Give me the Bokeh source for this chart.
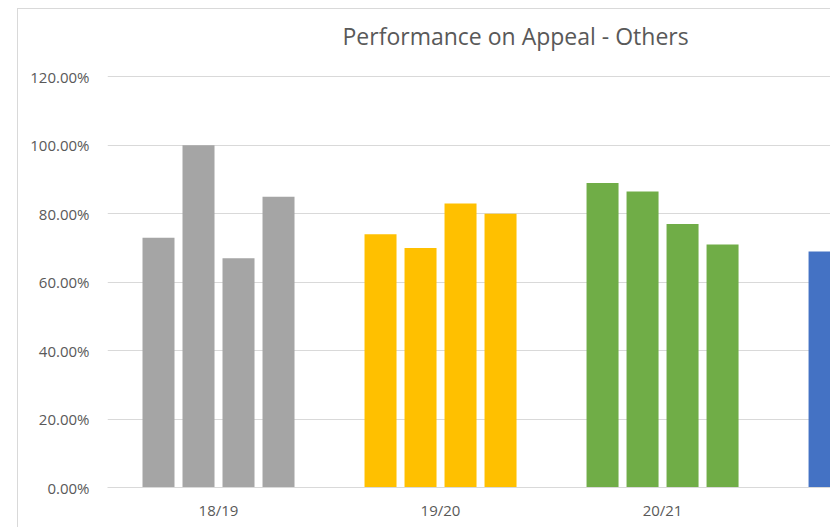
from bokeh.plotting import figure
from bokeh.models import ColumnDataSource, Range1d, FixedTicker, PrintfTickFormatter, Label
from bokeh.transform import dodge
from bokeh.embed import file_html
from bokeh.resources import INLINE
import math

categories = ["18/19", "19/20", "20/21", "21/22"]
q1 = [73.0, 74.0, 89.0, 69.0]
q2 = [100.0, 70.0, 86.5, math.nan]
q3 = [67.0, 83.0, 77.0, math.nan]
q4 = [85.0, 80.0, 71.0, math.nan]
bar_colors = ["#A5A5A5", "#FFC000", "#70AD47", "#4472C4"]
y_ticks = [0, 20, 40, 60, 80, 100, 120]
title_text = "Performance on Appeal - Others"

centers = [i + 0.5 for i in range(len(categories))]
src = ColumnDataSource(dict(x=centers, q1=q1, q2=q2, q3=q3, q4=q4, color=bar_colors))

FONT = "Open Sans"
TXT = "#595959"

# frame spans the full canvas height above the axis; the title sits inside it
p = figure(width=813, height=519, output_backend="svg", toolbar_location=None,
           x_range=Range1d(0, 3.261), y_range=Range1d(0, 139.7),
           min_border_left=89, min_border_right=0, min_border_top=0, min_border_bottom=41)
p.styles = {"margin-left": "17px", "margin-top": "8px",
            "border-left": "1px solid #d9d9d9", "border-top": "1px solid #d9d9d9"}

title = Label(x=(342 - 107) / 222, y=132.1, text=title_text, text_align="left",
              text_baseline="alphabetic", text_font=FONT, text_font_size="23px",
              text_color=TXT)
p.add_layout(title)

step = 40 / 222
bw = 32 / 222
for k, col in enumerate(["q1", "q2", "q3", "q4"]):
    p.vbar(x=dodge("x", (k - 1.5) * step), top=col, bottom=0, width=bw,
           fill_color="color", line_color=None, source=src)

p.outline_line_color = None
p.background_fill_color = "white"
p.border_fill_color = "white"

p.xgrid.visible = False
p.ygrid.grid_line_color = "#d9d9d9"
p.ygrid.grid_line_width = 1.2
p.ygrid.ticker = FixedTicker(ticks=y_ticks)

p.yaxis.ticker = FixedTicker(ticks=y_ticks)
p.yaxis.formatter = PrintfTickFormatter(format="%.2f%%")
p.yaxis.axis_line_color = None
p.yaxis.major_tick_line_color = None
p.yaxis.minor_tick_line_color = None
p.yaxis.major_label_standoff = 12
p.yaxis.major_label_text_font = FONT
p.yaxis.major_label_text_font_size = "15px"
p.yaxis.major_label_text_color = TXT

p.xaxis.ticker = FixedTicker(ticks=centers)
p.xaxis.major_label_overrides = {c: lab for c, lab in zip(centers, categories)}
p.xaxis.axis_line_color = "#d9d9d9"
p.xaxis.axis_line_width = 1.2
p.xaxis.major_tick_line_color = None
p.xaxis.minor_tick_line_color = None
p.xaxis.major_label_standoff = 6
p.xaxis.major_label_text_font = FONT
p.xaxis.major_label_text_font_size = "15px"
p.xaxis.major_label_text_color = TXT

open("out.html", "w").write(file_html(p, INLINE))
